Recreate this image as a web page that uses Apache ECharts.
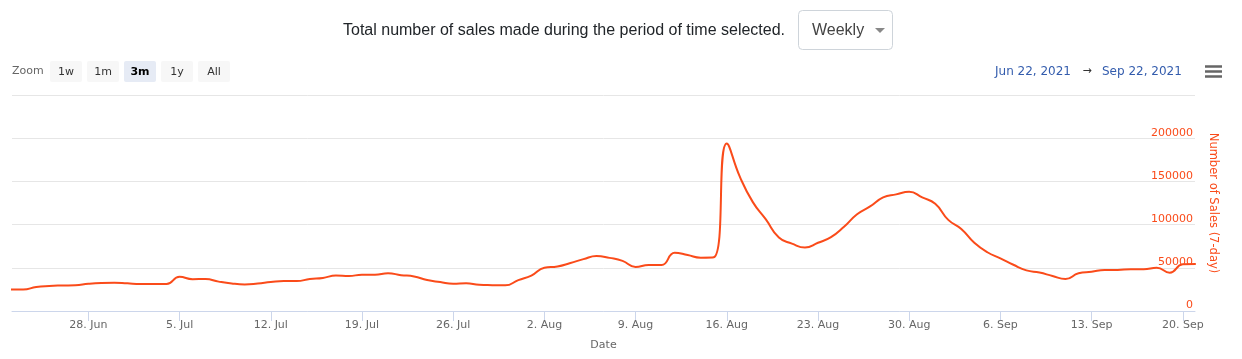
<!DOCTYPE html>
<html>
<head>
<meta charset="utf-8">
<script src="https://cdn.jsdelivr.net/npm/echarts@6/dist/echarts.min.js"></script>
<style>
  html, body { margin: 0; padding: 0; background: #ffffff; }
  #chart { width: 1242px; height: 359px; }
</style>
</head>
<body>
<div id="chart"></div>
<script>
// ---- data ----
const startDate = [2021, 6, 22];            // first daily point (Jun 22, 2021)
const salesValues = [
  25000, 24800, 27800, 29000, 29500, 29800, 31500, 32500, 32800, 32000,
  31300, 31200, 31300, 39500, 36800, 37000, 34000, 31800, 30800, 31800,
  33500, 34700, 34700, 37000, 38300, 41000, 40500, 42000, 42000, 43700,
  41500, 40000, 35800, 33500, 31600, 32000, 30300, 29900, 29700, 35700,
  41000, 50000, 51500, 55500, 60000, 63700, 61500, 58000, 51000, 53300,
  53300, 67500, 64800, 61700, 62200, 194000, 155500, 126000, 106000, 85000,
  78000, 73500, 79000, 85500, 97500, 112000, 121000, 131500, 135000, 138000,
  131500, 124000, 105500, 95000, 79000, 68000, 61000, 53500, 47000, 44500,
  40500, 37000, 43700, 45500, 47500, 47500, 48300, 48300, 50100, 44300,
  54000, 54500
];
const xTickDates = ['2021-06-28','2021-07-05','2021-07-12','2021-07-19','2021-07-26',
  '2021-08-02','2021-08-09','2021-08-16','2021-08-23','2021-08-30',
  '2021-09-06','2021-09-13','2021-09-20'];
const monthNames = ['Jan','Feb','Mar','Apr','May','Jun','Jul','Aug','Sep','Oct','Nov','Dec'];
const yTicks = [0, 50000, 100000, 150000, 200000, 250000];
const zoomButtons = ['1w', '1m', '3m', '1y', 'All'];
const selectedZoom = '3m';
const rangeFrom = 'Jun 22, 2021';
const rangeTo = 'Sep 22, 2021';
const headerText = 'Total number of sales made during the period of time selected.';
const periodChoice = 'Weekly';

// ---- build ----
function parseDay(s) { const p = s.split('-').map(Number); return new Date(p[0], p[1] - 1, p[2]).getTime(); }
const seriesData = salesValues.map((v, i) =>
  [new Date(startDate[0], startDate[1] - 1, startDate[2] + i).getTime(), v]);
const tickValues = xTickDates.map(parseDay);
const axisMin = new Date(2021, 5, 22, 3, 20).getTime();
const axisMax = new Date(2021, 8, 20, 22, 30).getTime();

const LINE = '#fa4b1a';
const FONT = 'DejaVu Sans';

const graphics = [];
graphics.push({ type: 'text', left: 343, top: 23,
  style: { text: headerText, font: '16px "Liberation Sans"', fill: '#212529' } });
graphics.push({ type: 'rect', shape: { x: 798.5, y: 10.5, width: 94, height: 39, r: 4 },
  style: { fill: '#fff', stroke: '#ced4da', lineWidth: 1 } });
graphics.push({ type: 'text', left: 812, top: 23,
  style: { text: periodChoice, font: '16px "Liberation Sans"', fill: '#444' } });
graphics.push({ type: 'polygon', shape: { points: [[875, 28], [885, 28], [880, 33]] },
  style: { fill: '#888' } });
graphics.push({ type: 'text', left: 12, top: 66,
  style: { text: 'Zoom', font: '11px "' + FONT + '"', fill: '#666' } });
zoomButtons.forEach((b, i) => {
  const x = 50 + 37 * i;
  const sel = b === selectedZoom;
  graphics.push({ type: 'rect', shape: { x: x, y: 61, width: 32, height: 21, r: 2 },
    style: { fill: sel ? '#e6ebf5' : '#f7f7f7' } });
  graphics.push({ type: 'text', x: x + 16, y: 72,
    style: { text: b, font: (sel ? 'bold ' : '') + '11px "' + FONT + '"', fill: sel ? '#000' : '#333',
      align: 'center', verticalAlign: 'middle' } });
});
graphics.push({ type: 'text', x: 995, y: 71.5,
  style: { text: rangeFrom, font: '12px "' + FONT + '"', fill: '#335cad', verticalAlign: 'middle' } });
graphics.push({ type: 'text', x: 1087, y: 71.5,
  style: { text: '\u2192', font: '11px "' + FONT + '"', fill: '#333', align: 'center', verticalAlign: 'middle' } });
graphics.push({ type: 'text', x: 1102, y: 71.5,
  style: { text: rangeTo, font: '12px "' + FONT + '"', fill: '#335cad', verticalAlign: 'middle' } });
[66.5, 71.5, 76.5].forEach(y => graphics.push({ type: 'rect',
  shape: { x: 1205, y: y - 1.25, width: 17, height: 2.5 }, style: { fill: '#666' } }));

const chart = echarts.init(document.getElementById('chart'), null, { renderer: 'canvas' });
chart.setOption({
  animation: false,
  backgroundColor: '#ffffff',
  grid: { left: 12, right: 47, top: 95, bottom: 48 },
  xAxis: {
    type: 'value', min: axisMin, max: axisMax, scale: true,
    name: 'Date', nameLocation: 'middle', nameGap: 29,
    nameTextStyle: { color: '#666', fontSize: 11, fontFamily: FONT },
    axisLine: { show: true, lineStyle: { color: '#ccd6eb', width: 1 } },
    axisTick: { show: true, length: 10, lineStyle: { color: '#ccd6eb' }, customValues: tickValues },
    axisLabel: { customValues: tickValues, color: '#666', fontSize: 11, fontFamily: FONT, margin: 9,
      formatter: v => { const d = new Date(v); return d.getDate() + '. ' + monthNames[d.getMonth()]; } },
    splitLine: { show: false }
  },
  yAxis: {
    type: 'value', position: 'right', min: yTicks[0], max: yTicks[yTicks.length - 1], interval: yTicks[1] - yTicks[0],
    name: 'Number of Sales (7-day)', nameLocation: 'middle', nameRotate: -90, nameGap: 12,
    nameTextStyle: { color: LINE, fontSize: 11.5, fontFamily: FONT },
    axisLine: { show: false }, axisTick: { show: false },
    axisLabel: { inside: true, margin: 2, verticalAlign: 'bottom', color: LINE, fontSize: 11, fontFamily: FONT,
      formatter: v => (v >= yTicks[yTicks.length - 1] ? '' : String(v)) },
    splitLine: { show: true, lineStyle: { color: '#e6e6e6', width: 1 } }
  },
  series: [{
    type: 'line', data: seriesData, smooth: 0.5, showSymbol: false,
    lineStyle: { color: LINE, width: 2 }, itemStyle: { color: LINE }
  }],
  graphic: graphics
});
</script>
</body>
</html>
